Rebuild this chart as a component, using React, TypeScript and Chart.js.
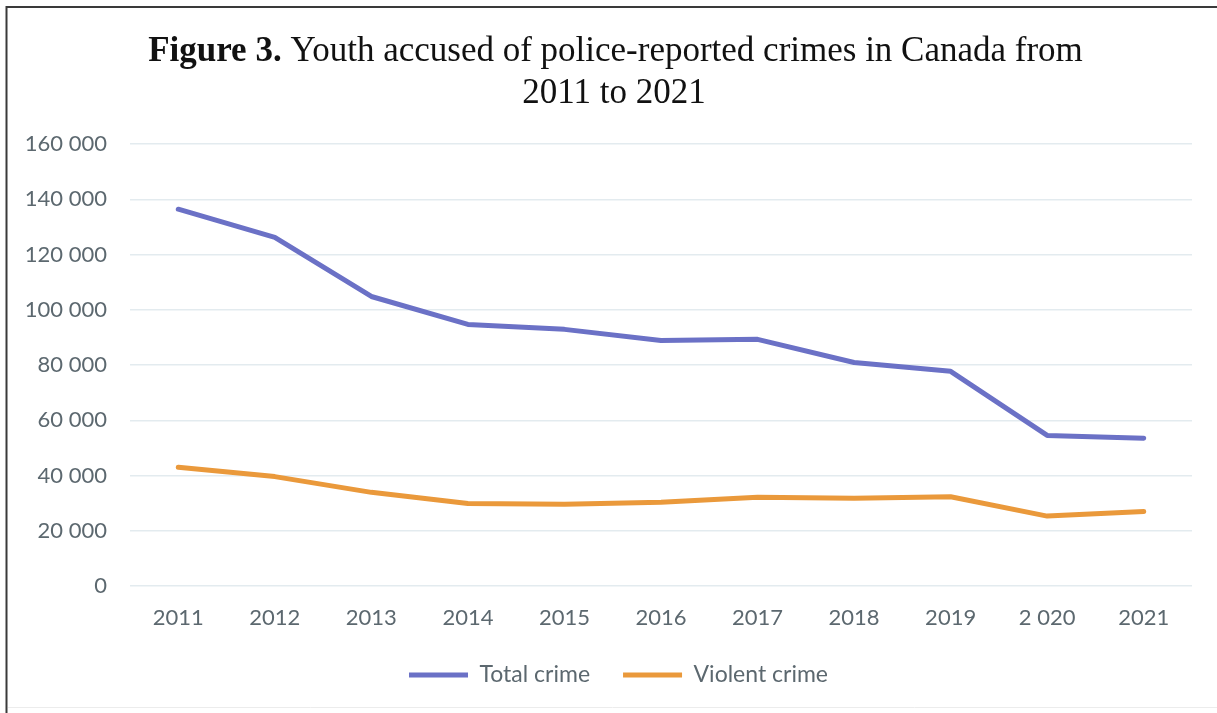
import React, { useEffect, useRef } from "react";
import { Chart, registerables } from "chart.js";

Chart.register(...registerables);

// ---- data ----
const years = ["2011", "2012", "2013", "2014", "2015", "2016", "2017", "2018", "2019", "2 020", "2021"];
const totalCrime = [136400, 126200, 104800, 94700, 92900, 88900, 89300, 80900, 77700, 54500, 53500];
const violentCrime = [43000, 39600, 33900, 29900, 29600, 30300, 32100, 31800, 32300, 25300, 27000];
const seriesNames = ["Total crime", "Violent crime"];
const yMin = 0;
const yMax = 160000;
const yStep = 20000;
const titleBold = "Figure 3.";
const titleRest = " Youth accused of police-reported crimes in Canada from";
const titleLine2 = "2011 to 2021";

// ---- styles ----
const W = 1217;
const H = 713;
const blue = "#6b71c6";
const orange = "#ea993b";
const tickColor = "#5c686f";
const gridColor = "#e3ebef";
const tickFont = { family: "Lato, 'Open Sans', sans-serif", size: 22 };
const legendFont = { family: "Lato, 'Open Sans', sans-serif", size: 23 };
const legendShift = 12.5;

const fmt = (v: number) => String(Math.round(v)).replace(/\B(?=(\d{3})+(?!\d))/g, " ");

const legendShiftPlugin = {
  id: "legendShift",
  afterLayout(chart: any) {
    const lg = chart.legend;
    if (lg) {
      lg.left += legendShift;
      lg.right += legendShift;
    }
  },
};

const framePlugin = {
  id: "figFrameTitle",
  afterDraw(chart: any) {
    const ctx = chart.ctx as CanvasRenderingContext2D;
    ctx.save();
    // frame
    ctx.strokeStyle = "#3a3a3a";
    ctx.lineWidth = 2;
    ctx.beginPath();
    ctx.moveTo(6.5, H);
    ctx.lineTo(6.5, 7);
    ctx.lineTo(W, 7);
    ctx.stroke();
    ctx.strokeStyle = "#ececec";
    ctx.lineWidth = 1;
    ctx.beginPath();
    ctx.moveTo(8, 707.5);
    ctx.lineTo(W, 707.5);
    ctx.stroke();
    // title
    const bFont = "bold 35px 'Liberation Serif', 'Times New Roman', serif";
    const nFont = "35px 'Liberation Serif', 'Times New Roman', serif";
    ctx.fillStyle = "#111111";
    ctx.textBaseline = "alphabetic";
    ctx.textAlign = "left";
    ctx.font = bFont;
    const w1 = ctx.measureText(titleBold).width;
    ctx.font = nFont;
    const w2 = ctx.measureText(titleRest).width;
    const x0 = 615.5 - (w1 + w2) / 2;
    ctx.font = bFont;
    ctx.fillText(titleBold, x0, 61);
    ctx.font = nFont;
    ctx.fillText(titleRest, x0 + w1, 61);
    ctx.textAlign = "center";
    ctx.fillText(titleLine2, 614, 103);
    ctx.restore();
  },
};

export default function App() {
  const ref = useRef<HTMLCanvasElement | null>(null);

  useEffect(() => {
    if (!ref.current) return;
    const chart = new Chart(ref.current, {
      type: "line",
      data: {
        labels: years,
        datasets: [
          {
            label: seriesNames[0],
            data: totalCrime,
            borderColor: blue,
            backgroundColor: blue,
            borderWidth: 5,
            pointRadius: 0,
            tension: 0,
            borderCapStyle: "round",
            borderJoinStyle: "round",
            fill: false,
          },
          {
            label: seriesNames[1],
            data: violentCrime,
            borderColor: orange,
            backgroundColor: orange,
            borderWidth: 5,
            pointRadius: 0,
            tension: 0,
            borderCapStyle: "round",
            borderJoinStyle: "round",
            fill: false,
          },
        ],
      },
      options: {
        responsive: false,
        animation: false,
        layout: { padding: { left: 20, right: 25, top: 144, bottom: 16.5 } },
        plugins: {
          title: { display: false },
          tooltip: { enabled: false },
          legend: {
            position: "bottom",
            labels: {
              usePointStyle: true,
              pointStyle: "line",
              pointStyleWidth: 59,
              padding: 33,
              color: tickColor,
              font: legendFont,
            },
          },
        },
        scales: {
          x: {
            offset: true,
            grid: { display: false, offset: true, drawTicks: false },
            border: { display: false },
            ticks: { color: tickColor, font: tickFont, padding: 19, maxRotation: 0, autoSkip: false },
            afterFit: (s: any) => {
              s.height = 44.5;
            },
          },
          y: {
            min: yMin,
            max: yMax,
            grid: { color: gridColor, lineWidth: 1.5, drawTicks: false },
            border: { display: false },
            ticks: {
              stepSize: yStep,
              padding: 23,
              color: tickColor,
              font: tickFont,
              callback: (v: any) => fmt(Number(v)),
            },
            afterFit: (s: any) => {
              s.width = 110;
            },
          },
        },
      },
      plugins: [legendShiftPlugin, framePlugin],
    });
    return () => chart.destroy();
  }, []);

  return (
    <div style={{ position: "absolute", left: 0, top: 0, width: W, height: H, background: "#fff" }}>
      <canvas ref={ref} width={W} height={H} style={{ display: "block" }} />
    </div>
  );
}
